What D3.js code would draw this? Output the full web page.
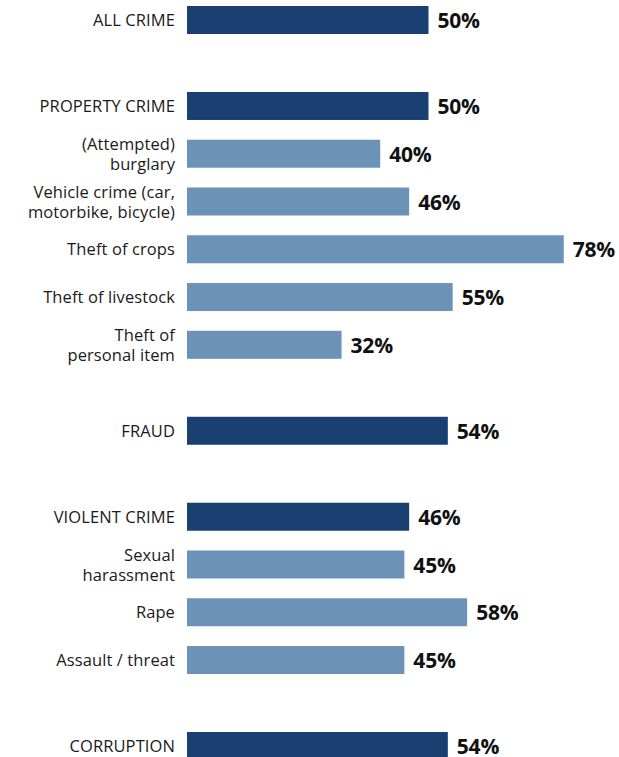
<!DOCTYPE html>
<html>
<head>
<meta charset="utf-8">
<script src="https://cdn.jsdelivr.net/npm/d3@7"></script>
<style>
  html, body { margin: 0; padding: 0; background: #fff; overflow: hidden; }
  svg { display: block; }
  .cat { font-family: "Open Sans", "Noto Sans", sans-serif; font-size: 16.5px; fill: #1a1a1a; letter-spacing: 0.1px; }
  .val { font-family: "Open Sans", "Noto Sans", sans-serif; font-size: 21px; font-weight: 700; fill: #111; letter-spacing: -0.2px; }
</style>
</head>
<body>
<svg id="chart" width="619" height="757"></svg>
<script>
// Crime categories, grouped; the first entry of each group is the headline figure.
const categories = [
  "ALL CRIME",
  "PROPERTY CRIME",
  "(Attempted)\nburglary",
  "Vehicle crime (car,\nmotorbike, bicycle)",
  "Theft of crops",
  "Theft of livestock",
  "Theft of\npersonal item",
  "FRAUD",
  "VIOLENT CRIME",
  "Sexual\nharassment",
  "Rape",
  "Assault / threat",
  "CORRUPTION"
];
const values = [50, 50, 40, 46, 78, 55, 32, 54, 46, 45, 58, 45, 54];
const isHeadline = [true, true, false, false, false, false, false, true, true, false, false, false, true];

const width = 619, height = 757;
const labelRight = 175;
const barLeft = 187;
const barH = 28;
const groupGap = 0.8;  // extra space (in rows) before each new group

// Row positions in row units, with a gap before each headline after the first.
const slots = [];
let s = 0;
categories.forEach((c, i) => {
  if (i > 0) s += 1 + (isHeadline[i] ? groupGap : 0);
  slots.push(s);
});

const rows = categories.map((c, i) => ({ label: c, value: values[i], head: isHeadline[i], slot: slots[i] }));

const x = d3.scaleLinear().domain([0, 100]).range([barLeft, barLeft + 483]);
const y = d3.scaleLinear().domain([0, d3.max(slots)]).range([20, 746]);

const svg = d3.select("#chart");

const g = svg.selectAll("g.row").data(rows).join("g").attr("class", "row");

g.append("rect")
  .attr("x", x(0))
  .attr("y", d => y(d.slot) - barH / 2)
  .attr("width", d => x(d.value) - x(0))
  .attr("height", barH)
  .attr("fill", d => d.head ? "#1a4072" : "#6b93b8");

g.append("text")
  .attr("class", "val")
  .attr("x", d => x(d.value) + 9)
  .attr("y", d => y(d.slot) + 8)
  .text(d => d.value + "%");

g.each(function (d) {
  const lines = d.label.split("\n");
  const lh = 20;
  const t = d3.select(this).append("text")
    .attr("class", "cat")
    .attr("text-anchor", "end");
  lines.forEach((ln, k) => {
    t.append("tspan")
      .attr("x", labelRight)
      .attr("y", y(d.slot) + 6 + (k - (lines.length - 1) / 2) * lh)
      .text(ln);
  });
});
</script>
</body>
</html>
